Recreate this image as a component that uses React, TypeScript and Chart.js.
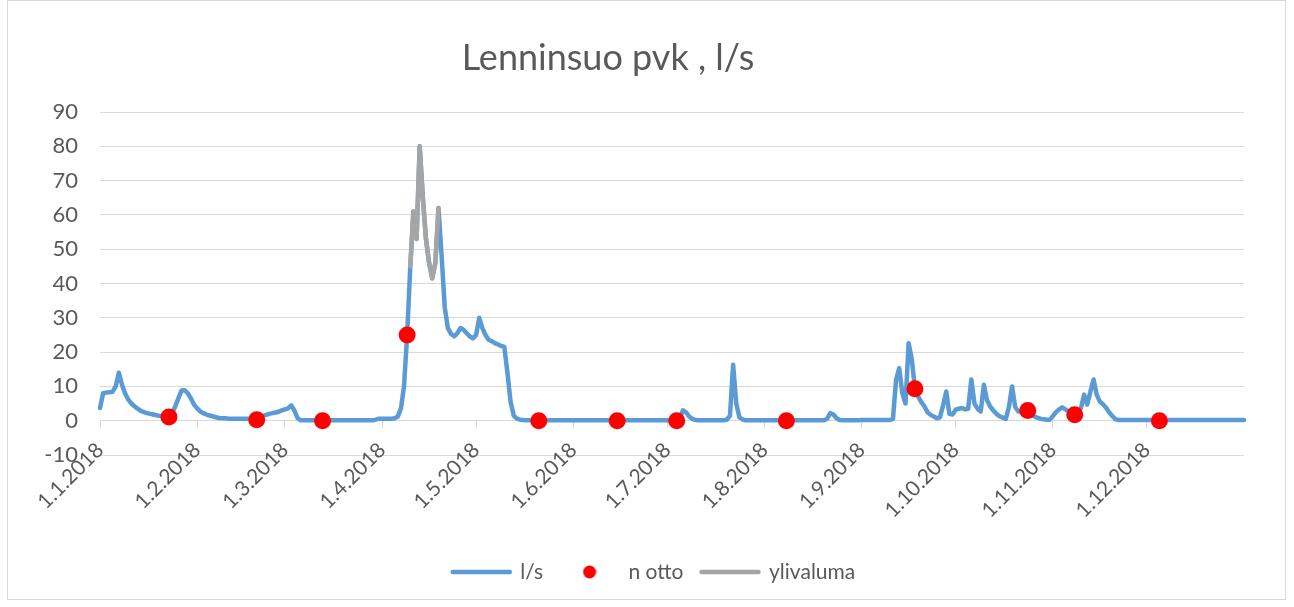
import React, { useEffect, useRef } from 'react';
import { Chart, registerables } from 'chart.js';

Chart.register(...registerables);

const TITLE = 'Lenninsuo pvk , l/s';
const SERIES_NAMES = ['l/s', 'n otto', 'ylivaluma'];

// daily flow l/s, month by month (2018) + 1.1.2019
const janValues = [3.7, 8, 8.2, 8.3, 8.4, 10, 14, 10.5, 8, 6.2, 5, 4.2, 3.5, 2.9, 2.5, 2.2, 2, 1.8, 1.6, 1.4, 1.2, 1.1, 1.1, 2, 4.2, 6.5, 8.8, 8.9, 8, 6.5, 4.7];
const febValues = [3.6, 2.7, 2.2, 1.8, 1.5, 1.3, 1.0, 0.8, 0.7, 0.7, 0.6, 0.6, 0.6, 0.6, 0.6, 0.6, 0.6, 0.6, 0.6, 0.7, 1.0, 1.4, 1.7, 2.0, 2.2, 2.4, 2.6, 3.0];
const marValues = [3.3, 3.6, 4.5, 3.0, 0.8, 0.1, 0.1, 0.1, 0.1, 0.1, 0.1, 0.1, 0.1, 0.1, 0.1, 0.1, 0.1, 0.1, 0.1, 0.1, 0.1, 0.1, 0.1, 0.1, 0.1, 0.1, 0.1, 0.1, 0.1, 0.3, 0.6];
const aprValues = [0.6, 0.6, 0.6, 0.6, 0.7, 1.2, 3.5, 10, 25, 45, 61, 53, 80, 65, 53, 46, 41.5, 46, 62, 48, 33, 27, 25.3, 24.6, 25.5, 27, 26.5, 25.5, 24.6, 24];
const mayValues = [25, 30, 27, 25, 23.6, 23.2, 22.6, 22.2, 21.8, 21.5, 14, 5.5, 1.5, 0.6, 0.3, 0.2, 0.1, 0.1, 0.1, 0.1, 0.1, 0.1, 0.1, 0.1, 0.1, 0.1, 0.1, 0.1, 0.1, 0.1, 0.1];
const junValues = [0.1, 0.1, 0.1, 0.1, 0.1, 0.1, 0.1, 0.1, 0.1, 0.1, 0.1, 0.1, 0.1, 0.1, 0.1, 0.1, 0.1, 0.1, 0.1, 0.1, 0.1, 0.1, 0.1, 0.1, 0.1, 0.1, 0.1, 0.1, 0.1, 0.1];
const julValues = [0.1, 0.1, 0.1, 0.1, 0.8, 3.0, 2.4, 1.2, 0.5, 0.2, 0.1, 0.1, 0.1, 0.1, 0.1, 0.1, 0.1, 0.1, 0.1, 0.3, 1.5, 16.3, 5, 1, 0.4, 0.1, 0.1, 0.1, 0.1, 0.1, 0.1];
const augValues = [0.1, 0.1, 0.1, 0.1, 0.1, 0.1, 0.1, 0.1, 0.1, 0.1, 0.1, 0.1, 0.1, 0.1, 0.1, 0.1, 0.1, 0.1, 0.1, 0.1, 0.6, 2.2, 1.8, 0.7, 0.2, 0.1, 0.1, 0.1, 0.1, 0.1, 0.1];
const sepValues = [0.2, 0.2, 0.2, 0.2, 0.2, 0.2, 0.2, 0.2, 0.2, 0.2, 0.5, 12, 15.3, 8, 5, 22.6, 18, 9.5, 7.1, 5.5, 4.2, 2.5, 1.7, 1.2, 0.7, 1.0, 4.5, 8.5, 2.0, 1.8];
const octValues = [3.2, 3.5, 3.7, 3.3, 3.5, 12, 5, 3.5, 2.7, 10.5, 6, 4.2, 3, 2, 1.3, 0.9, 0.5, 4, 10, 4, 2.7, 2.8, 3, 2.6, 1.8, 1.3, 0.9, 0.6, 0.4, 0.3, 0.3];
const novValues = [1.3, 2.5, 3.3, 3.9, 3.3, 2.7, 2.2, 1.9, 2.5, 3.7, 7.6, 4.7, 8.5, 12, 7.6, 5.6, 4.8, 3.8, 2.4, 1.4, 0.4, 0.2, 0.2, 0.2, 0.2, 0.2, 0.2, 0.2, 0.2, 0.2];
const decValues = [0.2, 0.2, 0.2, 0.2, 0.2, 0.2, 0.2, 0.2, 0.2, 0.2, 0.2, 0.2, 0.2, 0.2, 0.2, 0.2, 0.2, 0.2, 0.2, 0.2, 0.2, 0.2, 0.2, 0.2, 0.2, 0.2, 0.2, 0.2, 0.2, 0.2, 0.2];
const jan2019Values = [0.2];

// "n otto" sampling points
const ottoDates = ['23.1.2018', '20.2.2018', '13.3.2018', '9.4.2018', '21.5.2018', '15.6.2018', '4.7.2018', '8.8.2018', '18.9.2018', '24.10.2018', '8.11.2018', '5.12.2018'];
const ottoValues = [1.1, 0.3, 0, 25, 0, 0, 0, 0, 9.3, 3.0, 1.75, 0];

// "ylivaluma" overflow
const ylivalumaDates = ['10.4.2018', '11.4.2018', '12.4.2018', '13.4.2018', '14.4.2018', '15.4.2018', '16.4.2018', '17.4.2018', '18.4.2018', '19.4.2018'];
const ylivalumaValues = [45, 61, 53, 80, 65, 53, 46, 41.5, 46, 62];

// axis ticks
const monthTickLabels = ['1.1.2018', '1.2.2018', '1.3.2018', '1.4.2018', '1.5.2018', '1.6.2018', '1.7.2018', '1.8.2018', '1.9.2018', '1.10.2018', '1.11.2018', '1.12.2018'];
const yTickValues = [-10, 0, 10, 20, 30, 40, 50, 60, 70, 80, 90];

const lsValues = [
  ...janValues, ...febValues, ...marValues, ...aprValues, ...mayValues, ...junValues,
  ...julValues, ...augValues, ...sepValues, ...octValues, ...novValues, ...decValues, ...jan2019Values,
];

function buildDayLabels(count: number): string[] {
  const out: string[] = [];
  for (let i = 0; i < count; i++) {
    const d = new Date(Date.UTC(2018, 0, 1 + i));
    out.push(`${d.getUTCDate()}.${d.getUTCMonth() + 1}.${d.getUTCFullYear()}`);
  }
  return out;
}

const dayLabels = buildDayLabels(lsValues.length);

const FONT = 'Lato';
const TEXT_COLOR = '#595959';
const GRID_COLOR = '#d9d9d9';
const BLUE = '#5B9BD5';
const GRAY = '#A5A5A5';
const RED = '#FF0000';

const titlePlugin = {
  id: 'freeTitle',
  afterDraw(chart: any) {
    const ctx = chart.ctx;
    ctx.save();
    ctx.font = `36px ${FONT}`;
    ctx.fillStyle = TEXT_COLOR;
    ctx.textAlign = 'center';
    ctx.textBaseline = 'middle';
    ctx.fillText(TITLE, 608, 58);
    ctx.restore();
  },
};

export default function App() {
  const canvasRef = useRef<HTMLCanvasElement | null>(null);

  useEffect(() => {
    const canvas = canvasRef.current;
    if (!canvas) return;

    const dot = document.createElement('canvas');
    dot.width = 14;
    dot.height = 14;
    const dctx = dot.getContext('2d');
    if (dctx) {
      dctx.fillStyle = RED;
      dctx.beginPath();
      dctx.arc(7, 7, 6.5, 0, Math.PI * 2);
      dctx.fill();
    }

    const chart = new Chart(canvas, {
      type: 'line',
      data: {
        labels: dayLabels,
        datasets: [
          {
            label: SERIES_NAMES[0],
            data: lsValues,
            borderColor: BLUE,
            backgroundColor: BLUE,
            borderWidth: 4.5,
            pointRadius: 0,
            tension: 0,
            borderJoinStyle: 'round',
            borderCapStyle: 'round',
            xAxisID: 'x',
            yAxisID: 'y',
            order: 3,
          },
          {
            label: SERIES_NAMES[1],
            data: ottoDates.map((d, i) => ({ x: d, y: ottoValues[i] })),
            showLine: false,
            pointRadius: 8.5,
            pointBackgroundColor: RED,
            pointBorderWidth: 0,
            borderColor: RED,
            backgroundColor: RED,
            xAxisID: 'x',
            yAxisID: 'y',
            order: 1,
          },
          {
            label: SERIES_NAMES[2],
            data: ylivalumaDates.map((d, i) => ({ x: d, y: ylivalumaValues[i] })),
            borderColor: GRAY,
            backgroundColor: GRAY,
            borderWidth: 4.5,
            pointRadius: 0,
            tension: 0,
            borderJoinStyle: 'round',
            borderCapStyle: 'round',
            xAxisID: 'x',
            yAxisID: 'y',
            order: 2,
          },
        ] as any,
      },
      options: {
        animation: false,
        responsive: true,
        maintainAspectRatio: false,
        layout: { padding: { left: 14, right: 0, top: 112, bottom: 14.5 } },
        scales: {
          x: {
            type: 'category',
            position: { y: 0 } as any,
            offset: false,
            afterBuildTicks: (scale: any) => {
              scale.ticks = scale.ticks.filter((t: any) => monthTickLabels.includes(dayLabels[t.value]));
            },
            ticks: {
              autoSkip: false,
              maxRotation: 45,
              minRotation: 45,
              padding: 10,
              color: TEXT_COLOR,
              font: { family: FONT, size: 21 },
            },
            grid: {
              display: true,
              drawOnChartArea: false,
              drawTicks: true,
              tickLength: 7,
              color: GRID_COLOR,
              lineWidth: 1,
            },
            border: { display: true, color: GRID_COLOR, width: 1 },
          },
          y: {
            type: 'linear',
            position: 'left',
            min: -10,
            max: 90,
            afterBuildTicks: (scale: any) => {
              scale.ticks = yTickValues.map((v) => ({ value: v }));
            },
            afterFit: (scale: any) => {
              scale.width = 86;
            },
            ticks: {
              padding: 22,
              color: TEXT_COLOR,
              font: { family: FONT, size: 22 },
            },
            grid: { color: GRID_COLOR, lineWidth: 1, drawTicks: false },
            border: { display: false },
          },
          yRightSpace: {
            type: 'linear',
            axis: 'y',
            position: 'right',
            display: true,
            ticks: { display: false },
            grid: { display: false },
            border: { display: false },
            afterFit: (scale: any) => {
              scale.width = 50;
            },
          },
          xBottomSpace: {
            type: 'linear',
            axis: 'x',
            position: 'bottom',
            display: true,
            ticks: { display: false },
            grid: { display: false },
            border: { display: false },
            afterFit: (scale: any) => {
              scale.height = 88.5;
            },
          },
        } as any,
        plugins: {
          title: { display: false },
          tooltip: { enabled: false },
          legend: {
            display: true,
            position: 'bottom',
            labels: {
              usePointStyle: true,
              pointStyleWidth: 57,
              padding: 18,
              color: TEXT_COLOR,
              font: { family: FONT, size: 21 },
              generateLabels: () => [
                {
                  text: SERIES_NAMES[0], fillStyle: BLUE, strokeStyle: BLUE, lineWidth: 4.5,
                  pointStyle: 'line', lineCap: 'round', hidden: false, datasetIndex: 0, fontColor: TEXT_COLOR,
                },
                {
                  text: SERIES_NAMES[1], fillStyle: RED, strokeStyle: RED, lineWidth: 0,
                  pointStyle: dot, hidden: false, datasetIndex: 1, fontColor: TEXT_COLOR,
                },
                {
                  text: SERIES_NAMES[2], fillStyle: GRAY, strokeStyle: GRAY, lineWidth: 4.5,
                  pointStyle: 'line', lineCap: 'round', hidden: false, datasetIndex: 2, fontColor: TEXT_COLOR,
                },
              ] as any,
            },
          },
        },
      },
      plugins: [titlePlugin],
    });

    return () => {
      chart.destroy();
    };
  }, []);

  return (
    <>
      <div
        style={{
          position: 'absolute', left: 7, top: 0, width: 1279, height: 600,
          border: `1px solid ${GRID_COLOR}`, boxSizing: 'border-box', background: '#fff',
        }}
      />
      <div style={{ position: 'absolute', left: 0, top: 0, width: 1294, height: 607 }}>
        <canvas ref={canvasRef} />
      </div>
    </>
  );
}
